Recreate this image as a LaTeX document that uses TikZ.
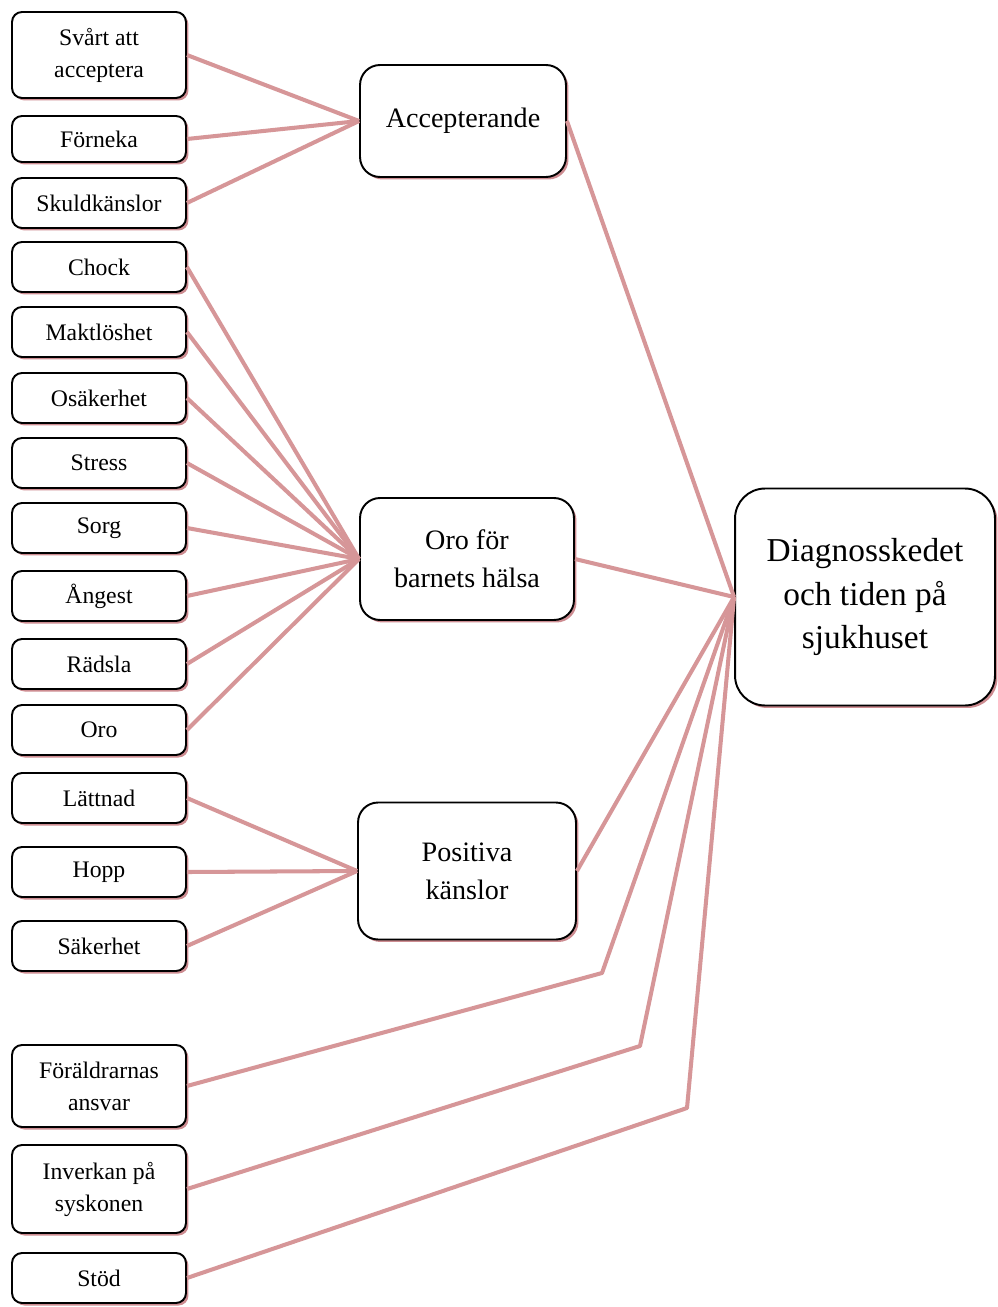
\documentclass[tikz,border=0pt]{standalone}
\usepackage{fontspec}
\setmainfont{Liberation Serif}
\usetikzlibrary{shadows}
\definecolor{linecol}{RGB}{214,150,152}
\definecolor{shadecol}{RGB}{205,140,145}

\begin{document}
\begin{tikzpicture}[x=0.02cm, y=-0.02cm,
    box/.style={draw=black, line width=1.1pt, fill=white, rounded corners=0.2cm,
        align=center, inner sep=0pt,
        drop shadow={shadow xshift=0.05cm, shadow yshift=-0.05cm, fill=shadecol, opacity=1}},
    smallbox/.style={box, minimum width=3.48cm, minimum height=1cm,
        font=\fontsize{13.5}{18.2}\selectfont},
    midbox/.style={box, rounded corners=0.4cm, font=\fontsize{16}{21.6}\selectfont},
    link/.style={draw=linecol, line width=2.3pt, line join=round}]

    \useasboundingbox (0,0) rectangle (997,1307);

    % Main box
    \node[box, rounded corners=0.6cm, minimum width=5.2cm, minimum height=4.34cm,
        font=\fontsize{19}{25}\selectfont] (diag) at (865,597)
        {Diagnosskedet\\och tiden på\\sjukhuset};

    % Middle boxes
    \node[midbox, minimum width=4.12cm, minimum height=2.24cm] (acc) at (463,121) {Accepterande};
    \node[midbox, minimum width=4.28cm, minimum height=2.44cm] (oro) at (467,559) {Oro för\\barnets hälsa};
    \node[midbox, minimum width=4.36cm, minimum height=2.74cm] (pos) at (467,871) {Positiva\\känslor};

    % Left boxes
    \node[smallbox, minimum height=1.72cm] (svart) at (99,55) {Svårt att\\acceptera};
    \node[smallbox, minimum height=0.92cm] (forneka) at (99,139) {Förneka};
    \node[smallbox] (skuld) at (99,203) {Skuldkänslor};
    \node[smallbox] (chock) at (99,267) {Chock};
    \node[smallbox] (makt) at (99,332) {Maktlöshet};
    \node[smallbox] (osak) at (99,398) {Osäkerhet};
    \node[smallbox] (stress) at (99,463) {Stress};
    \node[smallbox] (sorg) at (99,528) {Sorg};
    \node[smallbox] (angest) at (99,596) {Ångest};
    \node[smallbox] (radsla) at (99,664) {Rädsla};
    \node[smallbox] (orol) at (99,730) {Oro};
    \node[smallbox] (lattnad) at (99,798) {Lättnad};
    \node[smallbox] (hopp) at (99,872) {Hopp};
    \node[smallbox] (saker) at (99,946) {Säkerhet};
    \node[smallbox, minimum height=1.64cm] (foral) at (99,1086) {Föräldrarnas\\ansvar};
    \node[smallbox, minimum height=1.76cm] (inverk) at (99,1189) {Inverkan på\\syskonen};
    \node[smallbox] (stod) at (99,1278) {Stöd};

    % Bends of the lower connectors
    \coordinate (b1) at (602,973);
    \coordinate (b2) at (640,1046);
    \coordinate (b3) at (687,1108);

    % Connectors
    \foreach \n in {svart,forneka,skuld}
        \draw[link] (\n.east) -- (acc.west);
    \foreach \n in {chock,makt,osak,stress,sorg,angest,radsla,orol}
        \draw[link] (\n.east) -- (oro.west);
    \foreach \n in {lattnad,hopp,saker}
        \draw[link] (\n.east) -- (pos.west);

    \draw[link] (acc.east) -- (diag.west);
    \draw[link] (oro.east) -- (diag.west);
    \draw[link] (pos.east) -- (diag.west);

    \draw[link] (foral.east) -- (b1) -- (diag.west);
    \draw[link] (inverk.east) -- (b2) -- (diag.west);
    \draw[link] (stod.east) -- (b3) -- (diag.west);

\end{tikzpicture}
\end{document}
